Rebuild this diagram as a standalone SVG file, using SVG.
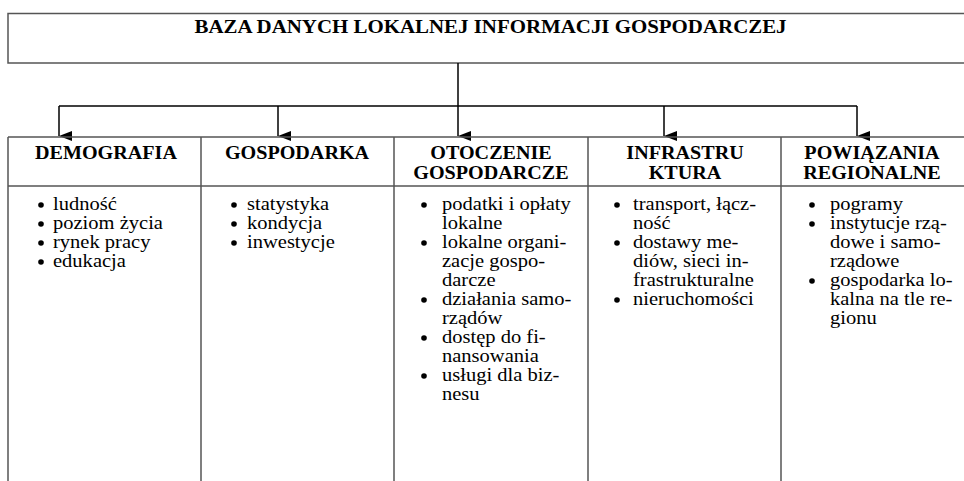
<svg xmlns="http://www.w3.org/2000/svg" width="964" height="481" viewBox="0 0 964 481">
<defs>
<marker id="ah" viewBox="0 0 10 13" refX="5" refY="13" markerWidth="10" markerHeight="13" markerUnits="userSpaceOnUse" orient="auto-start-reverse">
<path d="M0,0 L10,0 L5,13 Z" fill="#000"/>
</marker>
<style>
.box{fill:#fff;stroke:#555;stroke-width:1.5}
.ln{stroke:#555;stroke-width:1.5;fill:none}
.con{stroke:#000;stroke-width:1.5;fill:none}
.t{font-family:"Liberation Serif","Times New Roman",serif;font-weight:bold;font-size:19px;fill:#000}
.b{font-family:"Liberation Serif","Times New Roman",serif;font-size:18px;fill:#000}
.bu{fill:#000}
</style>
</defs>
<rect width="964" height="481" fill="#fff"/>
<g id="root">
<rect class="box" x="8" y="13.5" width="970" height="49.5"/>
<text class="t" text-anchor="middle" transform="translate(490.5,33) scale(1.1,1)">BAZA DANYCH LOKALNEJ INFORMACJI GOSPODARCZEJ</text>
</g>
<g id="connectors">
<line class="con" x1="458" y1="63" x2="458" y2="106"/>
<line class="con" x1="59" y1="106" x2="857" y2="106"/>
<line class="con" x1="59" y1="106" x2="59" y2="136" marker-end="url(#ah)"/>
<line class="con" x1="278" y1="106" x2="278" y2="136" marker-end="url(#ah)"/>
<line class="con" x1="458" y1="106" x2="458" y2="136" marker-end="url(#ah)"/>
<line class="con" x1="664" y1="106" x2="664" y2="136" marker-end="url(#ah)"/>
<line class="con" x1="857" y1="106" x2="857" y2="136" marker-end="url(#ah)"/>
</g>
<g id="table">
<line class="ln" x1="8" y1="137" x2="964" y2="137"/>
<line class="ln" x1="8" y1="186" x2="964" y2="186"/>
<line class="ln" x1="8" y1="137" x2="8" y2="481"/>
<line class="ln" x1="201" y1="137" x2="201" y2="481"/>
<line class="ln" x1="394" y1="137" x2="394" y2="481"/>
<line class="ln" x1="588" y1="137" x2="588" y2="481"/>
<line class="ln" x1="781" y1="137" x2="781" y2="481"/>
</g>
<g id="demografia">
<text class="t" text-anchor="middle" transform="translate(106,159) scale(1.06,1)">DEMOGRAFIA</text>
<g class="bu"><circle cx="41" cy="205" r="2.8"/><circle cx="41" cy="224" r="2.8"/><circle cx="41" cy="243" r="2.8"/><circle cx="41" cy="262" r="2.8"/></g>
<text class="b" transform="translate(53,210) scale(1.14,1)"><tspan x="0" y="0">ludność</tspan><tspan x="0" dy="19">poziom życia</tspan><tspan x="0" dy="19">rynek pracy</tspan><tspan x="0" dy="19">edukacja</tspan></text>
</g>
<g id="gospodarka">
<text class="t" text-anchor="middle" transform="translate(297,159) scale(1.06,1)">GOSPODARKA</text>
<g class="bu"><circle cx="234" cy="205" r="2.8"/><circle cx="234" cy="224" r="2.8"/><circle cx="234" cy="243" r="2.8"/></g>
<text class="b" transform="translate(247,210) scale(1.14,1)"><tspan x="0" y="0">statystyka</tspan><tspan x="0" dy="19">kondycja</tspan><tspan x="0" dy="19">inwestycje</tspan></text>
</g>
<g id="otoczenie">
<text class="t" text-anchor="middle" transform="translate(491,159) scale(1.06,1)"><tspan x="0" y="0">OTOCZENIE</tspan><tspan x="0" y="20">GOSPODARCZE</tspan></text>
<g class="bu"><circle cx="424" cy="205" r="2.8"/><circle cx="424" cy="243" r="2.8"/><circle cx="424" cy="300" r="2.8"/><circle cx="424" cy="338" r="2.8"/><circle cx="424" cy="376" r="2.8"/></g>
<text class="b" transform="translate(442,210) scale(1.14,1)"><tspan x="0" y="0">podatki i opłaty</tspan><tspan x="0" dy="19">lokalne</tspan><tspan x="0" dy="19">lokalne organi-</tspan><tspan x="0" dy="19">zacje gospo-</tspan><tspan x="0" dy="19">darcze</tspan><tspan x="0" dy="19">działania samo-</tspan><tspan x="0" dy="19">rządów</tspan><tspan x="0" dy="19">dostęp do fi-</tspan><tspan x="0" dy="19">nansowania</tspan><tspan x="0" dy="19">usługi dla biz-</tspan><tspan x="0" dy="19">nesu</tspan></text>
</g>
<g id="infrastruktura">
<text class="t" text-anchor="middle" transform="translate(685,159) scale(1.06,1)"><tspan x="0" y="0">INFRASTRU</tspan><tspan x="0" y="20">KTURA</tspan></text>
<g class="bu"><circle cx="617" cy="205" r="2.8"/><circle cx="617" cy="243" r="2.8"/><circle cx="617" cy="300" r="2.8"/></g>
<text class="b" transform="translate(633,210) scale(1.14,1)"><tspan x="0" y="0">transport, łącz-</tspan><tspan x="0" dy="19">ność</tspan><tspan x="0" dy="19">dostawy me-</tspan><tspan x="0" dy="19">diów, sieci in-</tspan><tspan x="0" dy="19">frastrukturalne</tspan><tspan x="0" dy="19">nieruchomości</tspan></text>
</g>
<g id="powiazania">
<text class="t" text-anchor="middle" transform="translate(872,159) scale(1.06,1)"><tspan x="0" y="0">POWIĄZANIA</tspan><tspan x="0" y="20">REGIONALNE</tspan></text>
<g class="bu"><circle cx="812" cy="205" r="2.8"/><circle cx="812" cy="224" r="2.8"/><circle cx="812" cy="281" r="2.8"/></g>
<text class="b" transform="translate(830,210) scale(1.14,1)"><tspan x="0" y="0">pogramy</tspan><tspan x="0" dy="19">instytucje rzą-</tspan><tspan x="0" dy="19">dowe i samo-</tspan><tspan x="0" dy="19">rządowe</tspan><tspan x="0" dy="19">gospodarka lo-</tspan><tspan x="0" dy="19">kalna na tle re-</tspan><tspan x="0" dy="19">gionu</tspan></text>
</g>
</svg>
